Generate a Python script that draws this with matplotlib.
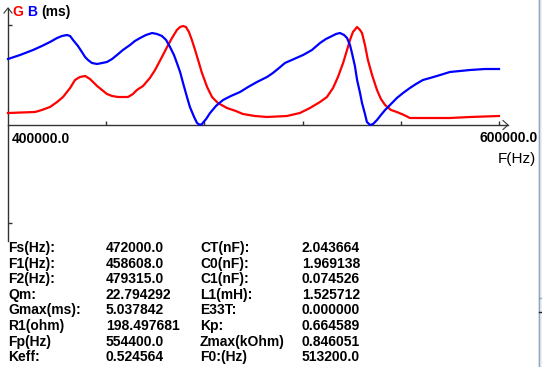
import matplotlib
matplotlib.use('Agg')
import matplotlib.pyplot as plt
from matplotlib.patches import Rectangle
from matplotlib.lines import Line2D

# Figure size in pixels
W, H = 542, 367

# Conductance G sweep (frequency in kHz, value in ms)
freqG = [400.0, 411.0, 413.8, 417.1, 420.0, 422.4, 425.3, 427.3, 429.3, 431.4, 433.4, 436.3,
         438.3, 440.3, 442.4, 444.8, 448.9, 450.9, 452.5, 455.0, 457.8, 459.9, 462.7, 464.8,
         466.8, 468.8, 470.1, 471.3, 472.5, 473.7, 474.9, 476.2, 477.8, 479.0, 481.1, 483.1,
         485.5, 489.2, 492.8, 495.7, 500.6, 505.5, 513.6, 518.9, 523.0, 527.1, 529.9, 532.4,
         534.4, 536.5, 538.1, 539.3, 540.5, 542.2, 543.4, 544.2, 545.4, 546.6, 548.3, 550.3,
         551.9, 553.6, 556.0, 558.4, 561.3, 563.7, 580.0, 588.2, 600.0]
valG = [0.60, 0.65, 0.75, 0.90, 1.15, 1.40, 1.85, 2.25, 2.40, 2.45, 2.30, 1.95,
        1.75, 1.55, 1.45, 1.40, 1.40, 1.55, 1.75, 1.95, 2.35, 2.75, 3.40, 3.90,
        4.35, 4.75, 4.90, 4.95, 4.90, 4.65, 4.25, 3.75, 3.10, 2.60, 1.90, 1.40,
        1.10, 0.85, 0.70, 0.55, 0.45, 0.40, 0.45, 0.60, 0.85, 1.15, 1.40, 1.85,
        2.40, 3.10, 3.75, 4.25, 4.65, 4.90, 4.75, 4.60, 4.00, 3.25, 2.50, 1.75,
        1.30, 1.00, 0.75, 0.65, 0.50, 0.35, 0.35, 0.40, 0.45]

# Susceptance B sweep (frequency in kHz, value in ms)
freqB = [400.0, 404.9, 410.2, 413.8, 417.1, 420.0, 422.0, 424.0, 425.3, 426.5, 428.5, 430.1,
         431.4, 432.6, 434.2, 436.3, 438.3, 440.3, 442.4, 444.4, 446.8, 449.7, 451.7, 453.8,
         456.2, 458.7, 460.7, 462.7, 464.4, 466.0, 467.6, 468.8, 470.1, 471.3, 472.9, 474.1,
         475.8, 477.0, 478.2, 479.0, 480.7, 482.3, 484.7, 487.6, 490.8, 494.5, 497.8, 501.4,
         505.5, 507.9, 510.4, 512.8, 516.5, 520.2, 523.8, 527.1, 529.5, 532.0, 533.6, 535.2,
         536.9, 538.1, 539.3, 540.1, 541.3, 542.2, 543.4, 544.2, 545.4, 546.2, 547.5, 548.7,
         550.3, 551.9, 553.6, 556.0, 558.4, 560.9, 563.7, 566.2, 569.0, 571.9, 574.7, 580.0,
         584.1, 588.2, 594.3, 600.0]
valB = [3.30, 3.50, 3.75, 3.95, 4.15, 4.35, 4.45, 4.50, 4.45, 4.25, 3.95, 3.65,
        3.40, 3.25, 3.10, 3.05, 3.10, 3.15, 3.30, 3.50, 3.75, 4.00, 4.20, 4.35,
        4.50, 4.60, 4.55, 4.45, 4.25, 3.90, 3.50, 3.10, 2.65, 2.10, 1.40, 0.90,
        0.40, 0.10, 0.00, 0.05, 0.30, 0.60, 0.95, 1.25, 1.45, 1.65, 1.90, 2.15,
        2.40, 2.60, 2.85, 3.10, 3.30, 3.50, 3.75, 4.10, 4.30, 4.45, 4.55, 4.60,
        4.50, 4.35, 4.00, 3.60, 2.95, 2.25, 1.60, 1.10, 0.55, 0.15, 0.00, 0.05,
        0.25, 0.50, 0.75, 1.05, 1.35, 1.60, 1.85, 2.05, 2.25, 2.35, 2.45, 2.65,
        2.70, 2.75, 2.80, 2.80]

xTicks = [440000, 480000, 520000, 560000, 600000]
yTicks = [5.0, -4.9]

# Result table
colLabels1 = ['Fs(Hz):', 'F1(Hz):', 'F2(Hz):', 'Qm:', 'Gmax(ms):', 'R1(ohm)', 'Fp(Hz)', 'Keff:']
colValues1 = ['472000.0', '458608.0', '479315.0', '22.794292', '5.037842', '198.497681', '554400.0', '0.524564']
colLabels2 = ['CT(nF):', 'C0(nF):', 'C1(nF):', 'L1(mH):', 'E33T:', 'Kp:', 'Zmax(kOhm)', 'F0:(Hz)']
colValues2 = ['2.043664', '1.969138', '0.074526', '1.525712', '0.000000', '0.664589', '0.846051', '513200.0']

FONT = 'Liberation Sans'
FS = 10


def fx(px):
    return px / W


def fy(py):
    return 1 - py / H


fig = plt.figure(figsize=(W / 100, H / 100), dpi=100)
fig.patch.set_facecolor('white')

# plot area: x 400k..600k -> px 8..499 ; y 0 at px 125, 0.05 ms per px
ax = fig.add_axes([fx(8), fy(241), (499 - 8) / W, (241 - 8) / H])
ax.set_xlim(400000, 600000)
ax.set_ylim(-5.8, 5.85)
ax.axis('off')

hzPerPx = 200000 / 491
msPerPx = 0.05

ax.plot([f * 1000 for f in freqG], valG, color='#ff0000', lw=1.6, clip_on=False, zorder=3,
        solid_joinstyle='round')
ax.plot([f * 1000 for f in freqB], valB, color='#0000ff', lw=1.6, clip_on=False, zorder=3,
        solid_joinstyle='round')

axisColor = '#333333'
# x axis with open arrow
xEnd = 400000 + (508 - 8) * hzPerPx
ax.plot([400000, xEnd], [0, 0], color=axisColor, lw=1, clip_on=False, zorder=2)
ax.plot([xEnd - 5 * hzPerPx, xEnd, xEnd - 5 * hzPerPx], [4.5 * msPerPx, 0, -4.5 * msPerPx],
        color=axisColor, lw=0.8, clip_on=False, zorder=2)
# y axis with open arrow
yTop = 5.85
ax.plot([400000, 400000], [-5.8, yTop], color=axisColor, lw=1, clip_on=False, zorder=2)
ax.plot([400000 - 4 * hzPerPx, 400000, 400000 + 4 * hzPerPx], [yTop - 5 * msPerPx, yTop, yTop - 5 * msPerPx],
        color=axisColor, lw=0.8, clip_on=False, zorder=2)

# ticks
ax.vlines(xTicks, 0, 4 * msPerPx, color=axisColor, lw=1, clip_on=False)
ax.hlines(yTicks, 400000, 400000 + 4 * hzPerPx, color=axisColor, lw=1, clip_on=False)

# labels
fig.text(fx(12), fy(16), 'G', color='#ff0000', fontsize=FS, fontweight='bold', family=FONT)
fig.text(fx(27), fy(16), 'B', color='#0000ff', fontsize=FS, fontweight='bold', family=FONT)
fig.text(fx(41), fy(16), '(ms)', color='black', fontsize=FS, fontweight='bold', family=FONT)
fig.text(fx(12), fy(143), '400000.0', color='black', fontsize=FS, fontweight='bold', family=FONT)
fig.text(fx(480), fy(142), '600000.0', color='black', fontsize=FS, fontweight='bold', family=FONT)
fig.text(fx(498), fy(163), 'F(Hz)', color='black', fontsize=11, family=FONT)

# table
colX = [8, 106, 200, 302]
for i in range(len(colLabels1)):
    baseY = 252 + i * 15.6
    row = [colLabels1[i], colValues1[i], colLabels2[i], colValues2[i]]
    for x, s in zip(colX, row):
        fig.text(fx(x), fy(baseY), s, color='black', fontsize=FS, fontweight='bold', family=FONT,
                 va='baseline')

# window frame at the right edge
fig.patches.append(Rectangle((fx(538), 0), 1 - fx(538), 1, transform=fig.transFigure,
                             facecolor='#f0f0f0', edgecolor='none', zorder=10))
fig.lines.append(Line2D([fx(538.5), fx(538.5)], [0, 1], transform=fig.transFigure,
                        color='#8aa4c8', lw=1, zorder=11))
fig.lines.append(Line2D([fx(539), 1], [fy(298), fy(298)], transform=fig.transFigure,
                        color='#8aa4c8', lw=1, zorder=11))
fig.lines.append(Line2D([fx(539), 1], [fy(312), fy(312)], transform=fig.transFigure,
                        color='#222222', lw=1, zorder=11))

fig.savefig('out.png', dpi=100, facecolor='white')
